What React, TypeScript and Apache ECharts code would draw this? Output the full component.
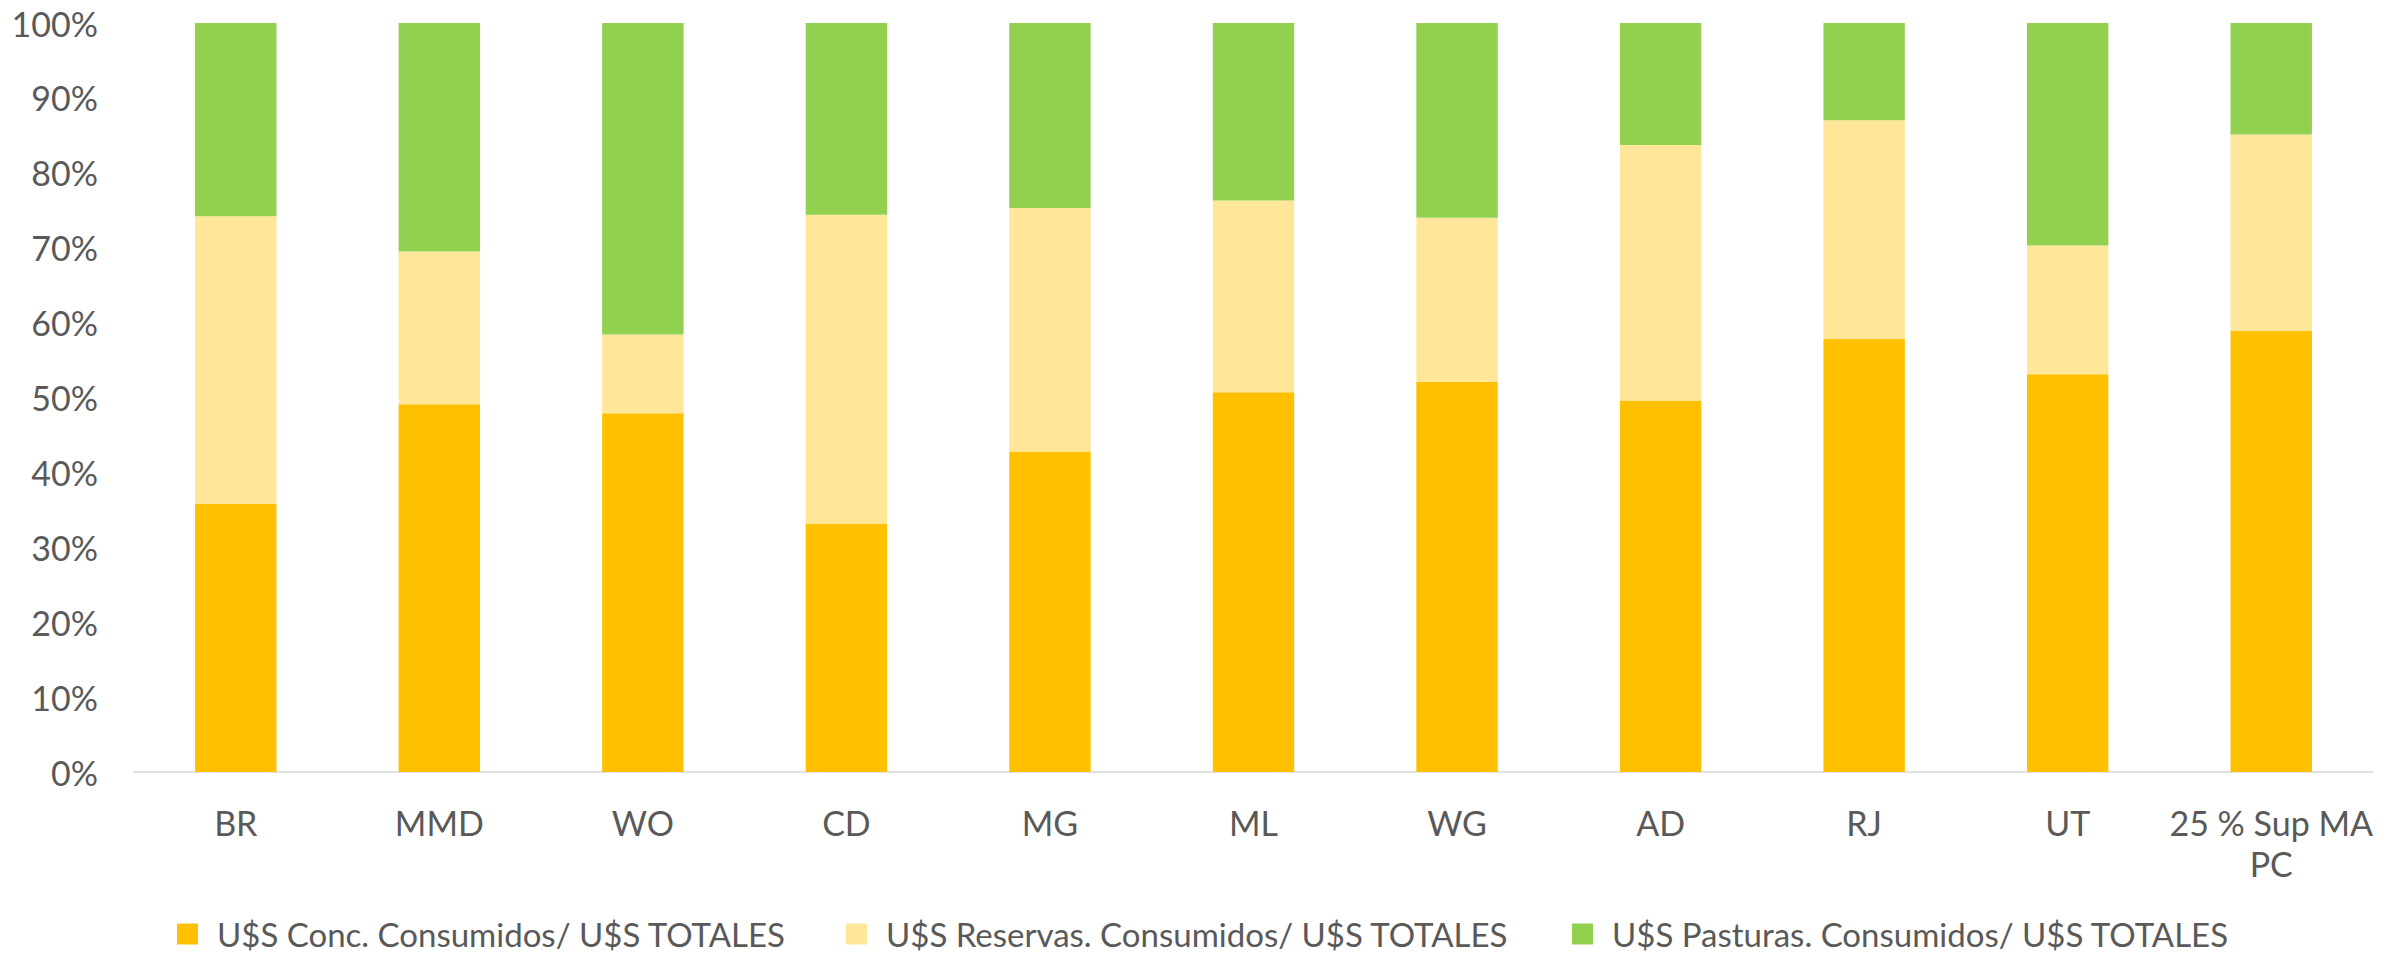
import React, { useEffect, useRef } from "react";
import * as echarts from "echarts";

const categories = ["BR", "MMD", "WO", "CD", "MG", "ML", "WG", "AD", "RJ", "UT", "25 % Sup MA PC"];
const concValues = [35.8, 49.1, 47.9, 33.1, 42.8, 50.7, 52.1, 49.6, 57.8, 53.1, 58.9];
const reservasValues = [38.4, 20.4, 10.5, 41.3, 32.5, 25.6, 21.9, 34.1, 29.2, 17.2, 26.2];
const pasturasValues = [25.8, 30.5, 41.6, 25.6, 24.7, 23.7, 26.0, 16.3, 13.0, 29.7, 14.9];
const seriesNames = [
  "U$S Conc. Consumidos/ U$S TOTALES",
  "U$S Reservas. Consumidos/ U$S TOTALES",
  "U$S Pasturas. Consumidos/ U$S TOTALES",
];
const colors = ["#FFC000", "#FFE699", "#92D050"];
const legendLeft = [177, 846, 1572];

const FONT = "Lato, 'Noto Sans', sans-serif";
const TEXT_COLOR = "#595959";

export default function App() {
  const ref = useRef<HTMLDivElement>(null);
  useEffect(() => {
    document.body.style.margin = "0";
    if (!ref.current) return;
    const chart = echarts.init(ref.current, null, { renderer: "svg" });
    const data = [concValues, reservasValues, pasturasValues];
    chart.setOption({
      animation: false,
      backgroundColor: "#ffffff",
      textStyle: { fontFamily: FONT, color: TEXT_COLOR },
      grid: { left: 134, right: 29, top: 23, bottom: 185, containLabel: false },
      legend: seriesNames.map((n, i) => ({
        data: [n],
        left: legendLeft[i],
        top: 916,
        padding: 0,
        icon: "rect",
        itemWidth: 21,
        itemHeight: 21,
        selectedMode: false,
        textStyle: {
          fontFamily: FONT,
          fontSize: 33,
          lineHeight: 36,
          color: TEXT_COLOR,
          padding: [0, 0, 0, 14],
        },
      })),
      xAxis: {
        type: "category",
        data: categories,
        axisLine: { show: true, lineStyle: { color: "#D9D9D9", width: 1.5 } },
        axisTick: { show: false },
        axisLabel: {
          fontFamily: FONT,
          fontSize: 34,
          color: TEXT_COLOR,
          margin: 30,
          lineHeight: 41,
          interval: 0,
          formatter: (v: string) => v.replace("MA PC", "MA\nPC"),
        },
      },
      yAxis: {
        type: "value",
        min: 0,
        max: 100,
        interval: 10,
        axisLine: { show: false },
        axisTick: { show: false },
        splitLine: { show: false },
        axisLabel: {
          fontFamily: FONT,
          fontSize: 34,
          color: TEXT_COLOR,
          margin: 36,
          formatter: "{value}%",
        },
      },
      series: seriesNames.map((n, i) => ({
        name: n,
        type: "bar",
        stack: "total",
        barWidth: "40%",
        itemStyle: { color: colors[i] },
        data: data[i],
      })),
    });
    return () => chart.dispose();
  }, []);
  return <div ref={ref} style={{ width: 2402, height: 957 }} />;
}
